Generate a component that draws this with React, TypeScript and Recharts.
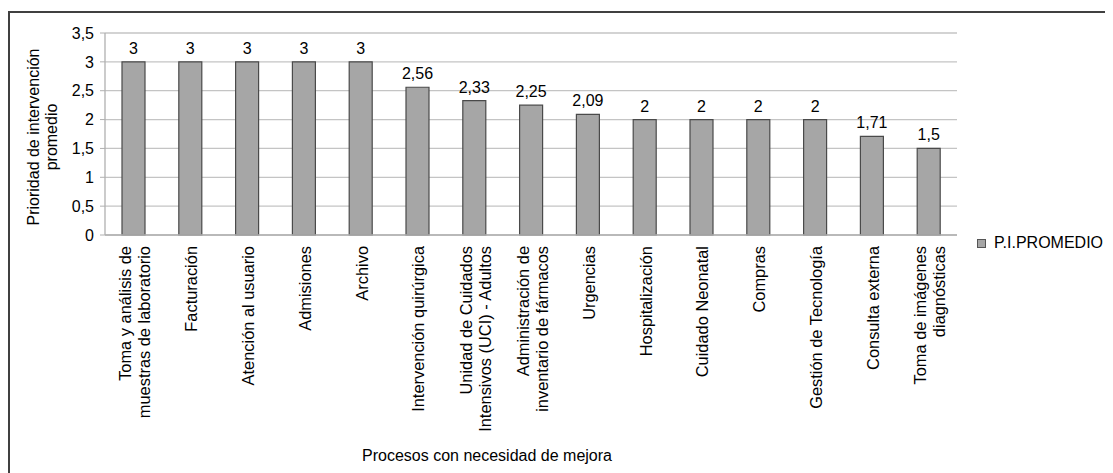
import { BarChart, Bar, XAxis, YAxis, CartesianGrid, Legend, LabelList } from 'recharts';

const procesos = [
    'Toma y análisis de\nmuestras de laboratorio',
    'Facturación',
    'Atención al usuario',
    'Admisiones',
    'Archivo',
    'Intervención quirúrgica',
    'Unidad de Cuidados\nIntensivos (UCI) - Adultos',
    'Administración de\ninventario de fármacos',
    'Urgencias',
    'Hospitalización',
    'Cuidado Neonatal',
    'Compras',
    'Gestión de Tecnología',
    'Consulta externa',
    'Toma de imágenes\ndiagnósticas',
];

const promedio = [3, 3, 3, 3, 3, 2.56, 2.33, 2.25, 2.09, 2, 2, 2, 2, 1.71, 1.5];

const yTicks = [0, 0.5, 1, 1.5, 2, 2.5, 3, 3.5];

const data = procesos.map((p, i) => ({ proceso: p, valor: promedio[i] }));

const FONT = '"Liberation Sans", Arial, sans-serif';
const coma = (v: any) => String(v).replace('.', ',');

// category names are rotated and may span two lines
const ProcesoTick = (props: any) => {
    const { x, y, payload } = props;
    const lines = String(payload.value).split('\n');
    const lineH = 19;
    return (
        <g transform={`translate(${x},${y})`}>
            <text
                transform="rotate(-90)"
                textAnchor="end"
                fill="#000"
                style={{ fontSize: '16.4px', fontFamily: FONT }}
            >
                {lines.map((l, i) => (
                    <tspan key={i} x={-5} y={(i - (lines.length - 1) / 2) * lineH + 1} dominantBaseline="central">
                        {l}
                    </tspan>
                ))}
            </text>
        </g>
    );
};

const YTitle = (props: any) => {
    const { viewBox } = props;
    const cy = viewBox.y + viewBox.height / 2 + 3;
    return (
        <g style={{ fontSize: '16px', fontFamily: FONT }} fill="#000">
            <text transform={`translate(23,${cy}) rotate(-90)`} textAnchor="middle" dominantBaseline="central">
                Prioridad de intervención
            </text>
            <text transform={`translate(41,${cy}) rotate(-90)`} textAnchor="middle" dominantBaseline="central">
                promedio
            </text>
        </g>
    );
};

const XTitle = () => (
    <text x={477} y={442} textAnchor="middle" dominantBaseline="central" fill="#000" style={{ fontSize: '16px', fontFamily: FONT }}>
        Procesos con necesidad de mejora
    </text>
);

const LegendBox = () => (
    <div style={{ display: 'flex', alignItems: 'center', fontFamily: FONT, fontSize: 16, color: '#000' }}>
        <span style={{ width: 7, height: 7, background: '#a6a6a6', border: '1px solid #555', marginRight: 8 }} />
        <span>P.I.PROMEDIO</span>
    </div>
);

export default function App() {
    return (
        <div style={{ marginTop: 3, borderLeft: '2px solid #404040', borderTop: '2px solid #404040', width: 1103, height: 460, overflow: 'hidden' }}>
            <BarChart width={1103} height={460} data={data} margin={{ top: 20, right: 156, left: 0, bottom: 0 }}>
                <CartesianGrid vertical={false} stroke="#c4c4c4" strokeWidth={1.3} />
                <XAxis
                    dataKey="proceso"
                    interval={0}
                    height={238}
                    tickLine={false}
                    tickMargin={0}
                    axisLine={{ stroke: '#b0b0b0', strokeWidth: 1.3 }}
                    tick={<ProcesoTick />}
                    label={{ content: <XTitle /> }}
                />
                <YAxis
                    width={95}
                    domain={[0, 3.5]}
                    ticks={yTicks}
                    tickFormatter={coma}
                    tick={{ fontSize: 16, fill: '#000', fontFamily: FONT }}
                    tickSize={5}
                    tickMargin={6}
                    tickLine={{ stroke: '#b0b0b0' }}
                    axisLine={{ stroke: '#b0b0b0', strokeWidth: 1.3 }}
                    label={{ content: <YTitle /> }}
                />
                <Legend
                    layout="horizontal"
                    verticalAlign="middle"
                    align="center"
                    content={<LegendBox />}
                    wrapperStyle={{ left: 967, top: 221, width: 140, height: 22 }}
                />
                <Bar dataKey="valor" name="P.I.PROMEDIO" fill="#a6a6a6" stroke="#4a4a4a" strokeWidth={1.2} barSize={23} isAnimationActive={false}>
                    <LabelList dataKey="valor" position="top" offset={8} formatter={coma} fontSize={16} fill="#000" fontFamily={FONT} />
                </Bar>
            </BarChart>
        </div>
    );
}
